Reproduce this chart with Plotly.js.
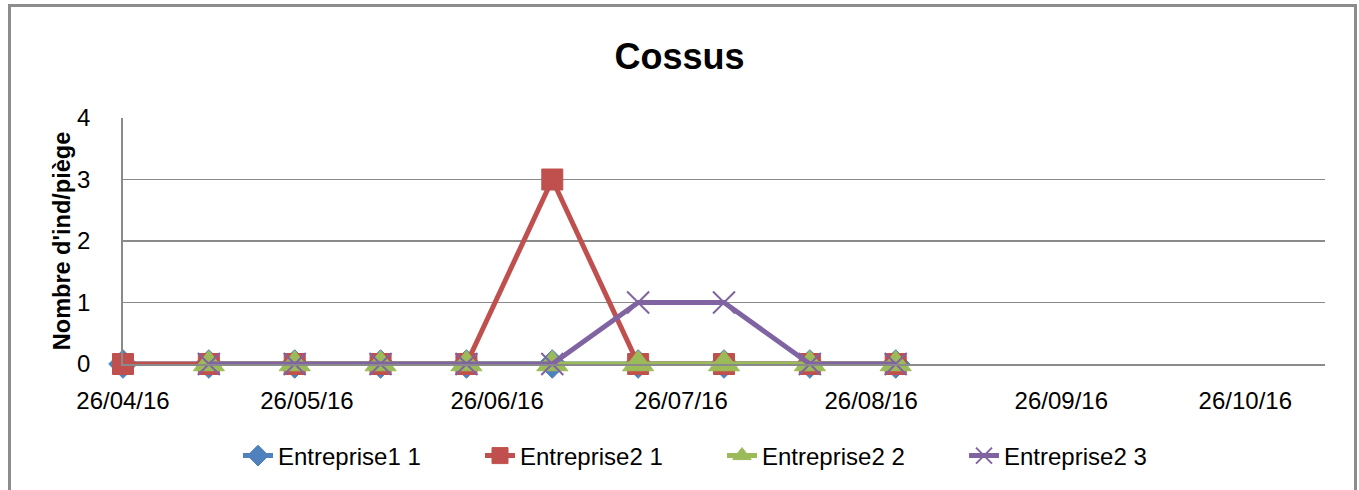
<!DOCTYPE html>
<html>
<head>
<meta charset="utf-8">
<script src="https://cdn.plot.ly/plotly-3.0.1.min.js"></script>
<style>
  html, body { margin: 0; padding: 0; background: #fff; }
  #chart { width: 1359px; height: 490px; }
</style>
</head>
<body>
<div id="chart"></div>
<script>
// ---- data ----
const dates = ['2016-04-26','2016-05-10','2016-05-24','2016-06-07','2016-06-21',
               '2016-07-05','2016-07-19','2016-08-02','2016-08-16','2016-08-30'];
const entreprise1_1 = [0, 0, 0, 0, 0, 0, 0, 0, 0, 0];
const entreprise2_1 = [0, 0, 0, 0, 0, 3, 0, 0, 0, 0];
const entreprise2_2 = [null, 0, 0, 0, 0, 0, 0, 0, 0, 0];
const entreprise2_3 = [null, 0, 0, 0, 0, 0, 1, 1, 0, 0];
const seriesNames = ['Entreprise1 1', 'Entreprise2 1', 'Entreprise2 2', 'Entreprise2 3'];
const xTickVals = ['2016-04-26','2016-05-26','2016-06-26','2016-07-26','2016-08-26','2016-09-26','2016-10-26'];
const xTickText = ['26/04/16','26/05/16','26/06/16','26/07/16','26/08/16','26/09/16','26/10/16'];
const yTickVals = [0, 1, 2, 3, 4];
const chartTitle = 'Cossus';
const yTitle = "Nombre d'ind/piège";

const FONT = 'Liberation Sans, Arial, sans-serif';

function mk(name, y, color, symbol, size, lw) {
  return {
    type: 'scatter', mode: 'lines+markers', name: name,
    x: dates, y: y, cliponaxis: false, connectgaps: false,
    line: { color: color, width: 5 },
    marker: { color: color, symbol: symbol, size: size, line: { color: color, width: lw } }
  };
}

const traces = [
  mk(seriesNames[0], entreprise1_1, '#4F81BD', 'diamond', 22, 1),
  mk(seriesNames[1], entreprise2_1, '#C0504D', 'square', 21, 1),
  mk(seriesNames[2], entreprise2_2, '#9BBB59', 'triangle-up', 27, 1),
  mk(seriesNames[3], entreprise2_3, '#8064A2', 'x-thin-open', 22, 2)
];

const layout = {
  width: 1359, height: 490,
  margin: { l: 123, r: 34, t: 118, b: 126 },
  paper_bgcolor: '#ffffff', plot_bgcolor: '#ffffff',
  font: { family: FONT, size: 24, color: '#000' },
  showlegend: true,
  title: {
    text: chartTitle,
    font: { family: FONT, size: 36, color: '#000', weight: 'bold' },
    x: 0.5, xref: 'container', xanchor: 'center',
    y: 1 - 56 / 490, yref: 'container', yanchor: 'middle'
  },
  xaxis: {
    type: 'date',
    range: ['2016-04-26', '2016-11-08'],
    tickmode: 'array', tickvals: xTickVals, ticktext: xTickText,
    showgrid: false, zeroline: false,
    showline: true, linecolor: '#8a8a8a', linewidth: 1.8,
    ticks: 'outside', ticklen: 14, tickcolor: 'rgba(0,0,0,0)',
    tickfont: { family: FONT, size: 24, color: '#000' }
  },
  yaxis: {
    range: [0, 4], tickmode: 'array', tickvals: yTickVals,
    showgrid: true, gridcolor: '#8a8a8a', gridwidth: 1.8,
    zeroline: false,
    showline: true, linecolor: '#8a8a8a', linewidth: 1.8,
    ticks: 'outside', ticklen: 26, tickcolor: 'rgba(0,0,0,0)',
    tickfont: { family: FONT, size: 24, color: '#000' },
    title: { text: yTitle, font: { family: FONT, size: 23.5, color: '#000', weight: 'bold' }, standoff: 0 }
  },
  legend: {
    orientation: 'h',
    xref: 'container', yref: 'container',
    x: 238 / 1359, xanchor: 'left',
    y: 1 - 456 / 490, yanchor: 'middle',
    entrywidth: 197, entrywidthmode: 'pixels',
    font: { family: FONT, size: 24, color: '#000' },
    bgcolor: 'rgba(0,0,0,0)', borderwidth: 0
  },
  shapes: [{
    type: 'rect', xref: 'paper', yref: 'paper',
    x0: (9.5 - 123) / 1202, x1: (1355.5 - 123) / 1202,
    y0: (364 - 500) / 246, y1: (364 - 5.5) / 246,
    line: { color: '#8c8c8c', width: 3 }, fillcolor: 'rgba(0,0,0,0)', layer: 'above'
  }]
};

Plotly.newPlot('chart', traces, layout, { displayModeBar: false, staticPlot: true });
</script>
</body>
</html>
